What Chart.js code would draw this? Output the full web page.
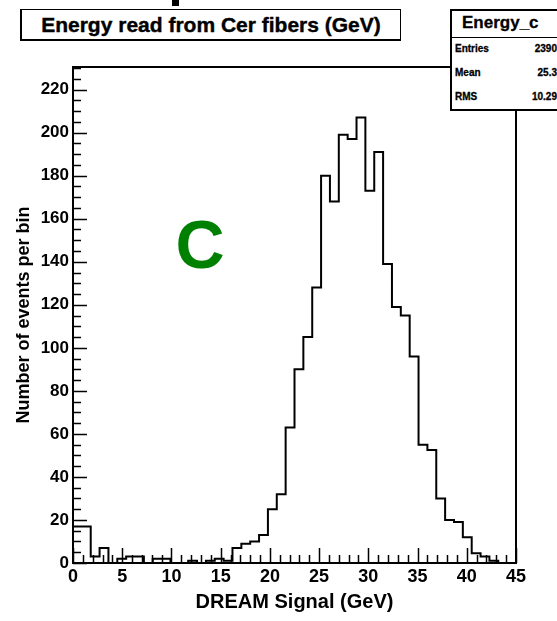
<!DOCTYPE html>
<html>
<head>
<meta charset="utf-8">
<script src="https://cdn.jsdelivr.net/npm/chart.js@4.4.1/dist/chart.umd.min.js"></script>
<style>
  body { margin: 0; background: #fff; }
  #wrap { position: relative; width: 557px; height: 621px; overflow: hidden; font-family: "Liberation Sans", Arial, sans-serif; font-weight: bold; }
  #hist { position: absolute; left: 0; top: 0; }
  .mark { position: absolute; left: 172px; top: 0; width: 7px; height: 6px; background: #000; }
  .title { position: absolute; left: 20px; top: 9px; width: 378px; height: 29px; border: 1px solid #000; border-left-width: 2px; border-bottom-width: 2px; background: #fff; font-size: 21px; line-height: 29px; text-align: center; -webkit-text-stroke: 0.4px #000; }
  .stats { position: absolute; left: 450px; top: 9px; width: 120px; height: 98px; border: 2px solid #000; background: #fff; }
  .stats .head { height: 26px; border-bottom: 1px solid #000; font-size: 17px; line-height: 24px; padding-left: 10px; -webkit-text-stroke: 0.3px #000; }
  .stats .row { position: absolute; left: 3px; width: 102px; font-size: 10px; line-height: 12px; -webkit-text-stroke: 0.3px #000; }
  .stats .row span { position: absolute; right: 0; }
</style>
</head>
<body>
<div id="wrap">
  <canvas id="hist" width="557" height="621"></canvas>
  <div class="mark"></div>
  <div class="title">Energy read from Cer fibers (GeV)</div>
  <div class="stats">
    <div class="head">Energy_c</div>
    <div class="row" style="top:32px">Entries<span>2390</span></div>
    <div class="row" style="top:56px">Mean<span>25.3</span></div>
    <div class="row" style="top:80px">RMS<span>10.29</span></div>
  </div>
</div>
<script>
// histogram: 50 bins from 0 to 45 GeV
const binLow = 0;
const binWidth = 0.9;
const counts = [
  17, 17, 3, 7, 0, 2, 3, 3, 0, 2,
  2, 0, 0, 1, 0, 1, 2, 1, 7, 9,
  10, 13, 25, 32, 63, 90, 105, 128, 180, 168,
  199, 197, 207, 173, 191, 139, 119, 115, 96, 55,
  52.5, 30, 20, 19, 12, 4.5, 3, 1, 0, 0
];
const xTickLabels = [0, 5, 10, 15, 20, 25, 30, 35, 40, 45];
const yTickLabels = [0, 20, 40, 60, 80, 100, 120, 140, 160, 180, 200, 220];

const xMax = binLow + binWidth * counts.length;
// left edge of every bin carries its content; closing point at the upper edge
const points = [{ x: binLow, y: 0 }];
counts.forEach((c, i) => points.push({ x: binLow + i * binWidth, y: c }));
points.push({ x: xMax, y: 0 });

const FONT = '"Liberation Sans", Arial, sans-serif';

// ROOT style frame with inward ticks, plus the "C" label
const rootFrame = {
  id: 'rootFrame',
  afterDatasetsDraw(chart) {
    const { ctx, chartArea: a, scales: { x, y } } = chart;
    ctx.save();
    ctx.strokeStyle = '#000';
    ctx.lineWidth = 1.5;
    ctx.beginPath();
    for (let v = 0; v <= 230; v += 5) {
      const py = Math.round(y.getPixelForValue(v)) + 0.5;
      const len = v % 20 === 0 ? 14 : 8;
      ctx.moveTo(a.left, py);
      ctx.lineTo(a.left + len, py);
    }
    for (let v = 0; v <= 45; v += 1) {
      const px = Math.round(x.getPixelForValue(v)) + 0.5;
      const len = v % 5 === 0 ? 15 : 8;
      ctx.moveTo(px, a.bottom);
      ctx.lineTo(px, a.bottom - len);
    }
    ctx.stroke();
    ctx.lineWidth = 2;
    ctx.strokeRect(a.left, a.top, a.right - a.left, a.bottom - a.top);

    ctx.fillStyle = '#008000';
    ctx.font = 'bold 68px ' + FONT;
    ctx.textAlign = 'center';
    ctx.textBaseline = 'alphabetic';
    ctx.fillText('C', x.getPixelForValue(12.9), y.getPixelForValue(137));
    ctx.restore();
  }
};

new Chart(document.getElementById('hist'), {
  type: 'line',
  data: {
    datasets: [{
      label: 'Energy_c',
      data: points,
      stepped: 'before',
      borderColor: '#000',
      borderWidth: 2,
      pointRadius: 0,
      fill: false
    }]
  },
  options: {
    responsive: false,
    animation: false,
    devicePixelRatio: 1,
    layout: { padding: { left: 0, top: 67, right: 41, bottom: 0 } },
    plugins: {
      legend: { display: false },
      tooltip: { enabled: false },
      title: { display: false }
    },
    scales: {
      x: {
        type: 'linear',
        min: binLow,
        max: xMax,
        afterBuildTicks: s => { s.ticks = xTickLabels.map(v => ({ value: v })); },
        afterFit: s => { s.height = 58; },
        grid: { display: false, drawTicks: false },
        border: { display: false },
        ticks: {
          color: '#000',
          padding: 3,
          maxRotation: 0,
          font: { family: FONT, size: 18, weight: 'bold' }
        },
        title: {
          display: true,
          text: 'DREAM Signal (GeV)',
          color: '#000',
          padding: { top: 0, bottom: 7 },
          font: { family: FONT, size: 20, weight: 'bold' }
        }
      },
      y: {
        min: 0,
        max: 230.5,
        afterBuildTicks: s => { s.ticks = yTickLabels.map(v => ({ value: v })); },
        afterFit: s => { s.width = 73; },
        grid: { display: false, drawTicks: false },
        border: { display: false },
        ticks: {
          color: '#000',
          padding: 4,
          font: { family: FONT, size: 17, weight: 'bold' }
        },
        title: {
          display: true,
          text: 'Number of events per bin',
          color: '#000',
          padding: { top: 13, bottom: 0 },
          font: { family: FONT, size: 18, weight: 'bold' }
        }
      }
    }
  },
  plugins: [rootFrame]
});
</script>
</body>
</html>
